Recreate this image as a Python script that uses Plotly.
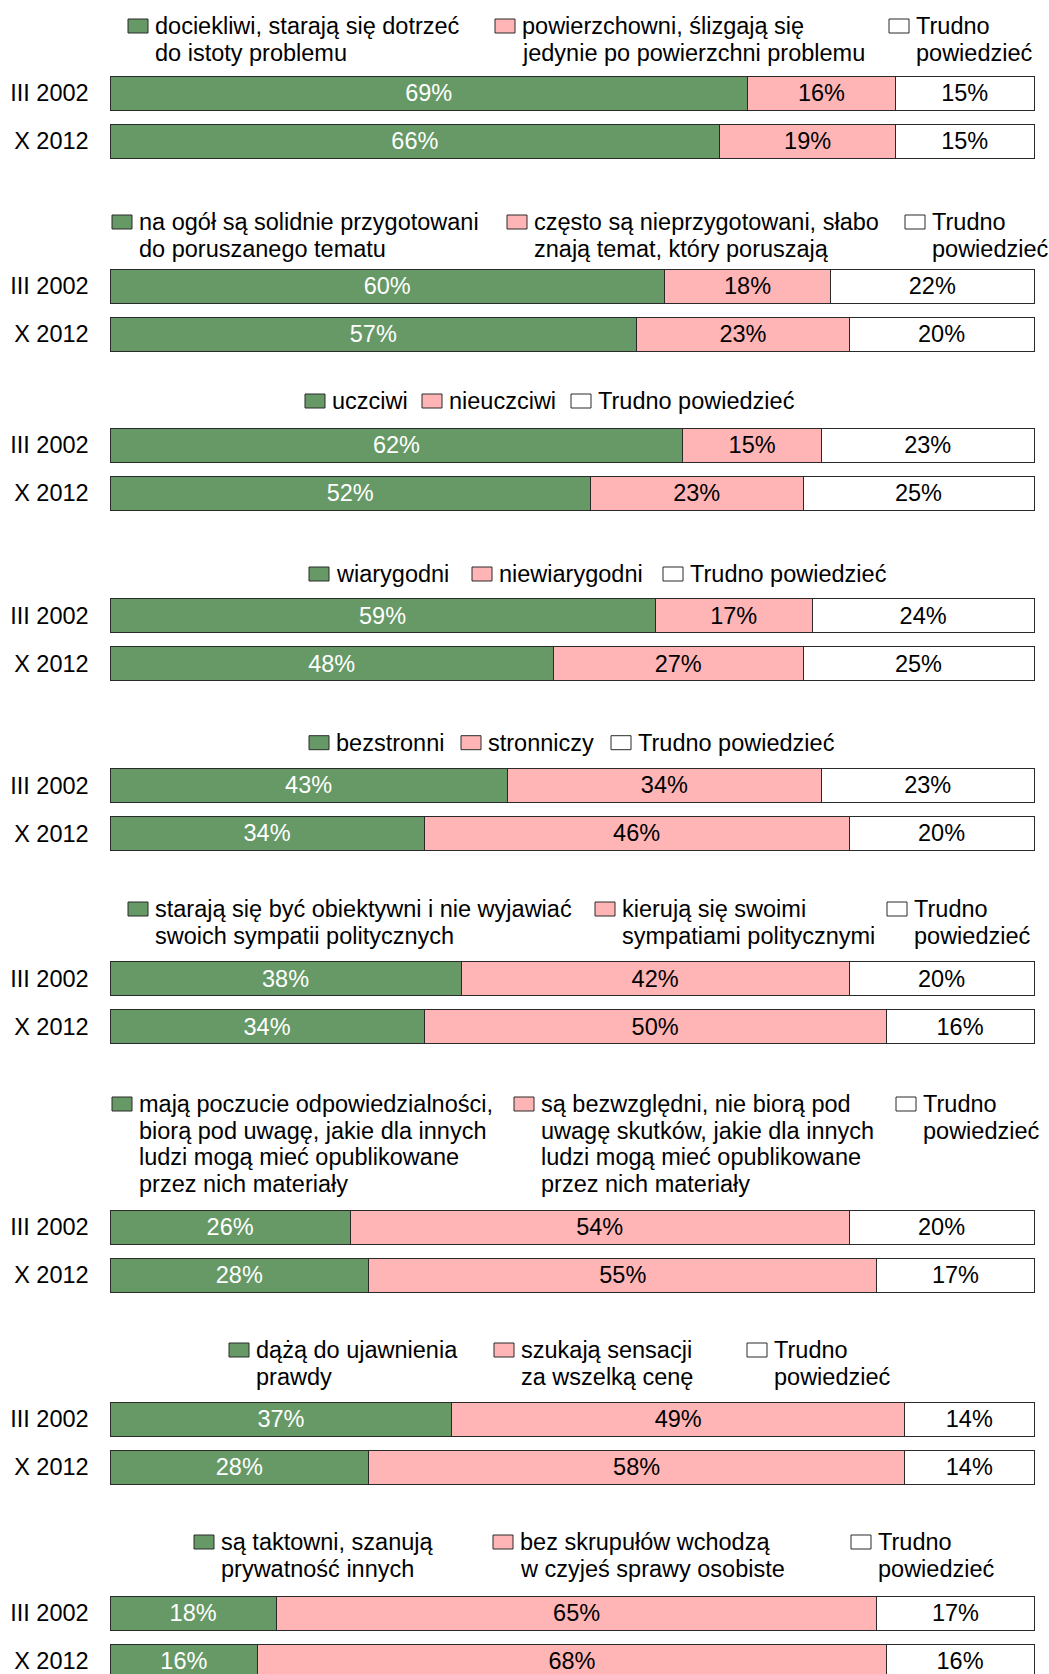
import plotly.graph_objects as go
from plotly.subplots import make_subplots

W, H = 1049, 1674

periods = ["III 2002", "X 2012"]

green_labels = [
    ["dociekliwi, starają się dotrzeć", "do istoty problemu"],
    ["na ogół są solidnie przygotowani", "do poruszanego tematu"],
    ["uczciwi"],
    ["wiarygodni"],
    ["bezstronni"],
    ["starają się być obiektywni i nie wyjawiać", "swoich sympatii politycznych"],
    ["mają poczucie odpowiedzialności,", "biorą pod uwagę, jakie dla innych",
     "ludzi mogą mieć opublikowane", "przez nich materiały"],
    ["dążą do ujawnienia", "prawdy"],
    ["są taktowni, szanują", "prywatność innych"],
]
pink_labels = [
    ["powierzchowni, ślizgają się", "jedynie po powierzchni problemu"],
    ["często są nieprzygotowani, słabo", "znają temat, który poruszają"],
    ["nieuczciwi"],
    ["niewiarygodni"],
    ["stronniczy"],
    ["kierują się swoimi", "sympatiami politycznymi"],
    ["są bezwzględni, nie biorą pod", "uwagę skutków, jakie dla innych",
     "ludzi mogą mieć opublikowane", "przez nich materiały"],
    ["szukają sensacji", "za wszelką cenę"],
    ["bez skrupułów wchodzą", "w czyjeś sprawy osobiste"],
]
white_labels = [
    ["Trudno", "powiedzieć"],
    ["Trudno", "powiedzieć"],
    ["Trudno powiedzieć"],
    ["Trudno powiedzieć"],
    ["Trudno powiedzieć"],
    ["Trudno", "powiedzieć"],
    ["Trudno", "powiedzieć"],
    ["Trudno", "powiedzieć"],
    ["Trudno", "powiedzieć"],
]

green_vals = [[69, 66], [60, 57], [62, 52], [59, 48], [43, 34],
              [38, 34], [26, 28], [37, 28], [18, 16]]
pink_vals = [[16, 19], [18, 23], [15, 23], [17, 27], [34, 46],
             [42, 50], [54, 55], [49, 58], [65, 68]]
white_vals = [[15, 15], [22, 20], [23, 25], [24, 25], [23, 20],
              [20, 16], [20, 17], [14, 14], [17, 16]]

# layout (pixels from top-left of the page)
bar_first_center = [93, 286, 445, 615.7, 785.4, 978.5, 1227.2, 1419.2, 1613]
bar_step = 48
bar_h = 34
legend_first_line = [26, 222, 401, 574, 742.7, 909, 1104, 1350, 1542]
line_step = 26.7
legend_text_x = [
    (153, 520, 914), (137, 532, 930), (330, 447, 596), (334, 497, 688),
    (334, 486, 636), (153, 620, 912), (137, 539, 921), (254, 519, 772),
    (219, 518, 876),
]
x_left, x_right, pad = 110, 1034, 0.15  # pad in % units so the outer edges stay visible

GREEN = "#669966"
PINK = "#FFB5B5"
WHITE = "#FFFFFF"
EDGE = "#2a2a2a"
FONT = "Liberation Sans, Arial, sans-serif"
FS = 23.5

n = len(green_vals)
fig = make_subplots(rows=n, cols=1)
unit = (x_right - x_left) / 100

for i in range(n):
    for vals, color, tcolor in [(green_vals[i], GREEN, "white"),
                                (pink_vals[i], PINK, "black"),
                                (white_vals[i], WHITE, "black")]:
        fig.add_trace(go.Bar(
            x=vals, y=periods, orientation="h",
            marker=dict(color=color, line=dict(color=EDGE, width=1)),
            text=[f"{v}%" for v in vals], textposition="inside",
            insidetextanchor="middle", constraintext="none",
            textfont=dict(color=tcolor, size=FS, family=FONT),
            showlegend=False, hoverinfo="skip",
        ), row=i + 1, col=1)

    top_px = bar_first_center[i] - bar_step / 2
    bot_px = min(bar_first_center[i] + bar_step * 1.5, H)
    span = (bot_px - top_px) / bar_step
    fig.update_yaxes(
        domain=[1 - bot_px / H, 1 - top_px / H],
        range=[-0.5 + span, -0.5],
        type="category", showgrid=False, zeroline=False, showline=False,
        ticks="", ticklabelstandoff=19,
        tickfont=dict(size=FS, color="black", family=FONT),
        row=i + 1, col=1,
    )
    fig.update_xaxes(
        domain=[(x_left - pad * unit) / W, (x_right + pad * unit) / W],
        range=[-pad, 100 + pad], visible=False,
        row=i + 1, col=1,
    )

    # legend blocks
    for j, (lines, color) in enumerate([(green_labels[i], GREEN),
                                        (pink_labels[i], PINK),
                                        (white_labels[i], WHITE)]):
        tx = legend_text_x[i][j]
        y0 = legend_first_line[i]
        fig.add_shape(
            type="rect", xref="paper", yref="paper",
            x0=(tx - 25) / W, x1=(tx - 5) / W,
            y0=1 - (y0 + 7) / H, y1=1 - (y0 - 7) / H,
            fillcolor=color, line=dict(color=EDGE, width=1),
        )
        for k, line in enumerate(lines):
            fig.add_annotation(
                text=line, xref="paper", yref="paper",
                x=tx / W, y=1 - (y0 + k * line_step) / H,
                xanchor="left", yanchor="middle", showarrow=False,
                font=dict(size=FS, color="black", family=FONT),
            )

fig.update_layout(
    width=W, height=H,
    margin=dict(l=0, r=0, t=0, b=0),
    barmode="stack", bargap=1 - bar_h / bar_step,
    plot_bgcolor="white", paper_bgcolor="white",
    font=dict(family=FONT, size=FS, color="black"),
)

fig.write_html(
    "out.html",
    config={"displayModeBar": False},
    post_script="document.body.style.margin='0';document.body.style.padding='0';",
)
